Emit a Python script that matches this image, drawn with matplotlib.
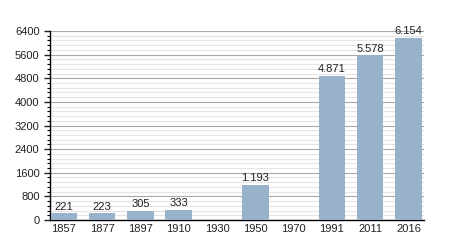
import numpy as np
import matplotlib
matplotlib.use("Agg")
import matplotlib.pyplot as plt
from matplotlib.ticker import MultipleLocator

plt.rcParams["font.family"] = ["Liberation Sans", "DejaVu Sans"]

years = ["1857", "1877", "1897", "1910", "1930", "1950", "1970", "1991", "2011", "2016"]
population = [221, 223, 305, 333, None, 1193, None, 4871, 5578, 6154]
y_ticks = [0, 800, 1600, 2400, 3200, 4000, 4800, 5600, 6400]

bar_color = "#98b2cc"

fig = plt.figure(figsize=(4.5, 2.5), dpi=100)
ax = fig.add_axes([0.111, 0.12, 0.831, 0.756])

x = np.arange(len(years))
idx = [i for i, v in enumerate(population) if v is not None]
vals = [population[i] for i in idx]
ax.bar(idx, vals, width=0.69, color=bar_color, zorder=3)

# value labels, German thousands separator
for i, v in zip(idx, vals):
    label = f"{v:,}".replace(",", ".")
    ax.text(i, v + 60, label, ha="center", va="bottom", fontsize=8,
            color="#222222", zorder=4)

ax.set_xlim(-0.36, 9.4)
ax.set_ylim(0, 6400)
ax.set_xticks(x)
ax.set_xticklabels(years)
ax.set_yticks(y_ticks)
ax.yaxis.set_minor_locator(MultipleLocator(160))

ax.grid(axis="y", which="major", color="#a8a8a8", linewidth=0.8, zorder=0)
ax.grid(axis="y", which="minor", color="#e4e4e4", linewidth=0.8, zorder=0)

for s in ["top", "right"]:
    ax.spines[s].set_visible(False)
ax.spines["left"].set_linewidth(1.0)
ax.spines["bottom"].set_linewidth(1.0)

ax.tick_params(axis="x", length=0, labelsize=8, pad=3, colors="#222222")
ax.tick_params(axis="y", which="major", length=4, width=1, labelsize=8,
               direction="out", colors="#222222")
ax.tick_params(axis="y", which="minor", length=2, width=0.8, direction="out")

fig.savefig("out.png", dpi=100)
